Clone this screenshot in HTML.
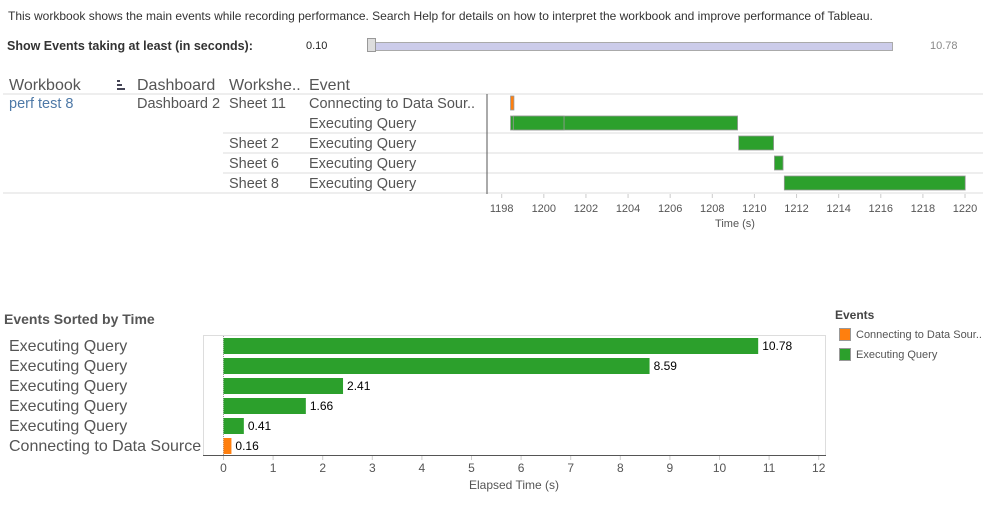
<!DOCTYPE html>
<html><head><meta charset="utf-8">
<style>
body{margin:0;width:993px;height:512px;background:#fff;font-family:"Liberation Sans",sans-serif;overflow:hidden;position:relative}
.t{position:absolute;white-space:nowrap}
</style></head>
<body>
<div class="t" style="left:8px;top:9px;font-size:12px;color:#333">This workbook shows the main events while recording performance. Search Help for details on how to interpret the workbook and improve performance of Tableau.</div>
<div class="t" style="left:7px;top:39px;font-size:12.5px;font-weight:bold;color:#333">Show Events taking at least (in seconds):</div>
<div class="t" style="left:306px;top:40px;font-size:11px;color:#222">0.10</div>
<div style="position:absolute;left:372px;top:42px;width:519px;height:7px;background:#ccccea;border:1px solid #aaa"></div>
<div style="position:absolute;left:367px;top:38px;width:7px;height:12px;background:#ddd;border:1px solid #999"></div>
<div class="t" style="left:930px;top:40px;font-size:11px;color:#888">10.78</div>

<svg id="topchart" width="993" height="240" style="position:absolute;left:0;top:0" font-family="Liberation Sans, sans-serif"></svg>
<svg id="botchart" width="993" height="272" style="position:absolute;left:0;top:240px" font-family="Liberation Sans, sans-serif"></svg>

<script>
const NS='http://www.w3.org/2000/svg';
function mk(p,tag,a,txt){const e=document.createElementNS(NS,tag);for(const k in a)e.setAttribute(k,a[k]);if(txt!==undefined)e.textContent=txt;p.appendChild(e);return e;}

// Gantt data
const ganttRows=[0,1,1,2,3,4];
const ganttStart=[1198.42,1198.42,1198.55,1209.25,1210.95,1211.42];
const ganttDur=[0.16,10.78,2.41,1.66,0.41,8.59];
const ganttType=['connect','query','query','query','query','query'];
const ganttTicks=[1198,1200,1202,1204,1206,1208,1210,1212,1214,1216,1218,1220];
// Sorted bar data
const sortCats=['Executing Query','Executing Query','Executing Query','Executing Query','Executing Query','Connecting to Data Source'];
const sortVals=[10.78,8.59,2.41,1.66,0.41,0.16];
const sortType=['query','query','query','query','query','connect'];
const sortTicks=[0,1,2,3,4,5,6,7,8,9,10,11,12];
const colors={connect:'#ff7f0e',query:'#2ca02c'};

const topSvg=document.getElementById('topchart');
[['Workbook',9],['Dashboard',137],['Workshe..',229],['Event',309]].forEach(h=>{
 const e=mk(topSvg,'text',{x:h[1],y:90,'font-size':16,fill:'#555'},h[0]);
 
 
});
const si=mk(topSvg,'g',{fill:'#445'});


mk(si,'rect',{x:117,y:80,width:3,height:2});mk(si,'rect',{x:117,y:84,width:5,height:2});mk(si,'rect',{x:117,y:88,width:8,height:2});
mk(topSvg,'line',{x1:3,y1:94,x2:983,y2:94,stroke:'#ddd'});
const rowY=[103,123,143,163,183];
const wsLbl=['Sheet 11','','Sheet 2','Sheet 6','Sheet 8'];
const evLbl=['Connecting to Data Sour..','Executing Query','Executing Query','Executing Query','Executing Query'];
let w=mk(topSvg,'text',{x:9,y:108,'font-size':14.5,fill:'#4e79a7'},'perf test 8');


w=mk(topSvg,'text',{x:137,y:108,'font-size':14.5,fill:'#555'},'Dashboard 2');


for(let i=0;i<5;i++){
 const a=mk(topSvg,'text',{x:229,y:rowY[i]+5,'font-size':14.5,fill:'#555'},wsLbl[i]);
 
 
 const b=mk(topSvg,'text',{x:309,y:rowY[i]+5,'font-size':14.5,fill:'#555'},evLbl[i]);
 
 
}
[133,153,173].forEach(y=>mk(topSvg,'line',{x1:223,y1:y,x2:983,y2:y,stroke:'#ddd'}));
mk(topSvg,'line',{x1:3,y1:193,x2:983,y2:193,stroke:'#ddd'});
mk(topSvg,'line',{x1:487,y1:94,x2:487,y2:194,stroke:'#555'});
const gx=v=>501.7+(v-1198)*21.06;
ganttStart.forEach((s,i)=>{
 const r=mk(topSvg,'rect',{x:gx(s),y:rowY[ganttRows[i]]-7,width:Math.max(2,ganttDur[i]*21.06),height:14,fill:colors[ganttType[i]],stroke:'#999','stroke-width':0.8});
 
 
});
ganttTicks.forEach(t=>{
 mk(topSvg,'line',{x1:gx(t),y1:194,x2:gx(t),y2:198,stroke:'#ccc'});
 const e=mk(topSvg,'text',{x:gx(t),y:212,'font-size':11,fill:'#555','text-anchor':'middle'},t);
 
 
});
w=mk(topSvg,'text',{x:735,y:227,'font-size':11,fill:'#555','text-anchor':'middle'},'Time (s)');



const bot=document.getElementById('botchart');
w=mk(bot,'text',{x:4,y:84,'font-size':14,'font-weight':'bold',fill:'#555'},'Events Sorted by Time');


mk(bot,'rect',{x:203.5,y:95.5,width:622,height:120,fill:'none',stroke:'#ddd'});
mk(bot,'line',{x1:203,y1:215.5,x2:826,y2:215.5,stroke:'#555'});
mk(bot,'line',{x1:223.5,y1:96,x2:223.5,y2:215,stroke:'#999','stroke-dasharray':'1,1'});
const bx=v=>223.5+v*49.6;
sortVals.forEach((v,i)=>{
 const y=98+i*20;
 const r=mk(bot,'rect',{x:bx(0),y:y,width:v*49.6,height:16,fill:colors[sortType[i]]});
 
 
 const l=mk(bot,'text',{x:bx(v)+4,y:y+12,'font-size':12,fill:'#000'},v.toFixed(2));
 
 
 const c=mk(bot,'text',{x:9,y:y+13,'font-size':16,fill:'#555'},sortCats[i]);
 
 
});
sortTicks.forEach(t=>{
 mk(bot,'line',{x1:bx(t),y1:216,x2:bx(t),y2:220,stroke:'#ccc'});
 const e=mk(bot,'text',{x:bx(t),y:232,'font-size':12,fill:'#555','text-anchor':'middle'},t);
 
 
});
w=mk(bot,'text',{x:514,y:249,'font-size':12,fill:'#555','text-anchor':'middle'},'Elapsed Time (s)');


w=mk(bot,'text',{x:835,y:79,'font-size':12,'font-weight':'bold',fill:'#444'},'Events');


[['Connecting to Data Sour..','connect'],['Executing Query','query']].forEach((l,i)=>{
 const g=mk(bot,'g',{});
 
 
 mk(g,'rect',{x:839.5,y:88.5+i*20,width:11,height:12,fill:colors[l[1]],stroke:'#999'});
 mk(g,'text',{x:856,y:98+i*20,'font-size':11,fill:'#555'},l[0]);
});
</script>
</body></html>
